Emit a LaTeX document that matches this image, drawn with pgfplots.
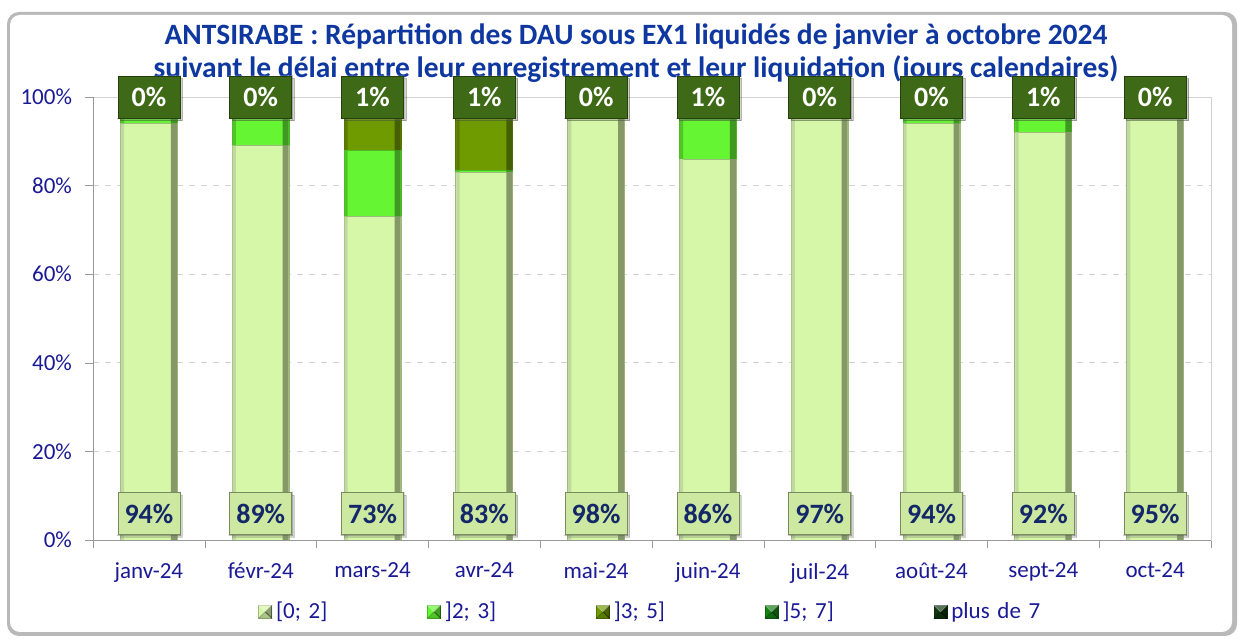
\documentclass[border=0pt]{standalone}
\usepackage{pgfplots}
\pgfplotsset{compat=1.18}
\usepackage{pgfplotstable}
\usepackage{fontspec}
\setmainfont{Carlito}
\usetikzlibrary{shadows}
\frenchspacing

\definecolor{cA}{RGB}{214,247,168}
\definecolor{cB}{RGB}{102,245,51}
\definecolor{cC}{RGB}{112,155,0}
\definecolor{cD}{RGB}{20,130,20}
\definecolor{cE}{RGB}{15,55,15}
\definecolor{lblbot}{RGB}{205,232,160}
\definecolor{lbltop}{RGB}{62,105,22}
\definecolor{navy}{RGB}{26,26,150}
\definecolor{titleblue}{RGB}{15,55,160}
\definecolor{lbltext}{RGB}{20,40,105}

\tikzset{
  nbevel/.style={append after command={
    \pgfextra{\let\bn\tikzlastnode}
    [draw=none]
    (\bn.north west) -- (\bn.north east) -- ([shift={(-2.5pt,-2.5pt)}]\bn.north east) -- ([shift={(2.5pt,-2.5pt)}]\bn.north west) -- cycle
  }},
}
\newcommand\bevelnode[1]{%
  \fill[white,opacity=0.45] (#1.north west) -- (#1.north east) -- ([shift={(-2.5pt,-2.5pt)}]#1.north east) -- ([shift={(2.5pt,-2.5pt)}]#1.north west) -- cycle;
  \fill[white,opacity=0.2] (#1.north west) -- ([shift={(2.5pt,-2.5pt)}]#1.north west) -- ([shift={(2.5pt,2.5pt)}]#1.south west) -- (#1.south west) -- cycle;
  \fill[black,opacity=0.35] (#1.north east) -- (#1.south east) -- ([shift={(-2.5pt,2.5pt)}]#1.south east) -- ([shift={(-2.5pt,-2.5pt)}]#1.north east) -- cycle;
  \fill[black,opacity=0.25] (#1.south west) -- (#1.south east) -- ([shift={(-2.5pt,2.5pt)}]#1.south east) -- ([shift={(2.5pt,2.5pt)}]#1.south west) -- cycle;
}

\pgfplotstableread{
x a b c d e
0 94 5.5 0.0 0.3 0.2
1 89 10.5 0.2 0.1 0.2
2 73 15 11 0.2 0.8
3 83 0.5 15.5 0.2 0.8
4 98 1.5 0.2 0.1 0.2
5 86 9 3.5 0.5 1.0
6 97 2.5 0.1 0.1 0.3
7 94 3 0.5 2.2 0.3
8 92 5.5 1.0 0.7 0.8
9 95 4.6 0.1 0.1 0.2
}\data

\pgfplotstableread{
x ylo lo yhi hi
0 5.9 94 99.9 0
1 5.9 89 99.9 0
2 5.9 73 99.9 1
3 5.9 83 99.9 1
4 5.9 98 99.9 0
5 5.9 86 99.9 1
6 5.9 97 99.9 0
7 5.9 94 99.9 0
8 5.9 92 99.9 1
9 5.9 95 99.9 0
}\lbl

\pgfplotsset{
  base/.style={at={(46.5pt,51pt)}, anchor=south west, scale only axis,
    width=559pt, height=221.5pt, xmin=-0.5, xmax=9.5, ymin=0, ymax=100,
    /pgf/number format/assume math mode=true},
  strips/.style={base, hide axis, ybar stacked, bar width=#1},
}

\begin{document}
\begin{tikzpicture}
\path[use as bounding box] (0,0) rectangle (621pt,321pt);
% frame
\fill[gray!55, rounded corners=6pt] (3.5pt,3pt) rectangle (618.5pt,315pt);
\fill[white, rounded corners=5pt] (5pt,5pt) rectangle (616pt,313.5pt);
% title
\node[align=center, text=titleblue, font=\bfseries\fontsize{14.75pt}{16.5pt}\selectfont] at (318pt,294.25pt)
 {ANTSIRABE : Répartition des DAU sous EX1 liquidés de janvier à octobre 2024\\
  suivant le délai entre leur enregistrement et leur liquidation (jours calendaires)};

\begin{axis}[
  base,
  ybar stacked, bar width=28.5pt,
  xtick={-0.5,0.5,...,9.5}, x tick label as interval,
  xticklabels={janv-24,févr-24,mars-24,avr-24,mai-24,juin-24,juil-24,août-24,sept-24,oct-24},
  ytick={0,20,...,100},
  yticklabel={\pgfmathprintnumber{\tick}\%},
  ymajorgrids, grid style={dashed, gray!35},
  axis line style={gray!35},
  tick style={gray!80}, tick align=outside, major tick length=4pt,
  xtick pos=bottom, ytick pos=left,
  ticklabel style={font=\fontsize{11.5pt}{13pt}\selectfont, text=navy},
  yticklabel style={xshift=-3pt},
  xticklabel style={yshift=-4pt},
  legend style={at={(0.1422,-0.162)}, anchor=west, draw=none, fill=none,
    font=\fontsize{11.5pt}{13pt}\selectfont, text=navy,
    nodes={text width=50pt, align=left},
    /tikz/every even column/.append style={column sep=23.5pt}},
  legend columns=5,
  legend image code/.code={%
    \fill[#1] (0pt,-3.2pt) rectangle (6.5pt,3.2pt);
    \fill[black,opacity=0.35] (6.5pt,-3.2pt) -- (6.5pt,3.2pt) -- (3.25pt,0pt) -- cycle;
    \fill[black,opacity=0.2] (0pt,-3.2pt) -- (6.5pt,-3.2pt) -- (3.25pt,0pt) -- cycle;
    \fill[white,opacity=0.3] (0pt,3.2pt) -- (6.5pt,3.2pt) -- (3.25pt,0pt) -- cycle;},
  after end axis/.code={\draw[gray!80] (rel axis cs:0,1) -- (rel axis cs:0,0) -- (rel axis cs:1,0);},
]
\addplot[fill=cA, draw=cA!75!black] table[x=x,y=a]{\data};
\addlegendentry{[0; 2]}
\addplot[fill=cB, draw=cB!75!black] table[x=x,y=b]{\data};
\addlegendentry{]2; 3]}
\addplot[fill=cC, draw=cC!75!black] table[x=x,y=c]{\data};
\addlegendentry{]3; 5]}
\addplot[fill=cD, draw=cD!75!black] table[x=x,y=d]{\data};
\addlegendentry{]5; 7]}
\addplot[fill=cE, draw=cE!75!black] table[x=x,y=e]{\data};
\addlegendentry{plus de 7}
\end{axis}

% darker right edge of the bars
\begin{axis}[strips=3pt, bar shift=12.5pt]
\addplot[fill=cA!62!black, draw=none] table[x=x,y=a]{\data};
\addplot[fill=cB!62!black, draw=none] table[x=x,y=b]{\data};
\addplot[fill=cC!62!black, draw=none] table[x=x,y=c]{\data};
\addplot[fill=cD!62!black, draw=none] table[x=x,y=d]{\data};
\addplot[fill=cE!62!black, draw=none] table[x=x,y=e]{\data};
\end{axis}
% lighter left edge of the bars
\begin{axis}[strips=1.6pt, bar shift=-13.2pt]
\addplot[fill=cA!75!gray, draw=none] table[x=x,y=a]{\data};
\addplot[fill=cB!80!black, draw=none] table[x=x,y=b]{\data};
\addplot[fill=cC!80!black, draw=none] table[x=x,y=c]{\data};
\addplot[fill=cD!80!black, draw=none] table[x=x,y=d]{\data};
\addplot[fill=cE!80!black, draw=none] table[x=x,y=e]{\data};
\end{axis}

\begin{axis}[
  base, hide axis, clip=false,
  point meta=explicit,
  nodes near coords={\pgfmathprintnumber[fixed,precision=0,assume math mode=true]{\pgfplotspointmeta}\%},
]
\addplot[only marks, mark=none,
  every node near coord/.style={anchor=center, fill=lblbot, draw=lblbot!60!black,
    minimum width=31pt, minimum height=21pt, inner sep=0pt, text=lbltext,
    font=\bfseries\fontsize{14pt}{16pt}\selectfont,
    drop shadow={shadow xshift=1.2pt, shadow yshift=-1.2pt, opacity=0.35},
    append after command={\pgfextra{\bevelnode{\tikzlastnode}}}}]
  table[x=x,y=ylo,meta=lo]{\lbl};
\addplot[only marks, mark=none,
  every node near coord/.style={anchor=center, fill=lbltop, draw=lbltop!60!black,
    minimum width=31pt, minimum height=21pt, inner sep=0pt, text=white,
    font=\bfseries\fontsize{14pt}{16pt}\selectfont,
    drop shadow={shadow xshift=1.2pt, shadow yshift=-1.2pt, opacity=0.35},
    append after command={\pgfextra{\bevelnode{\tikzlastnode}}}}]
  table[x=x,y=yhi,meta=hi]{\lbl};
\end{axis}
\end{tikzpicture}
\end{document}
